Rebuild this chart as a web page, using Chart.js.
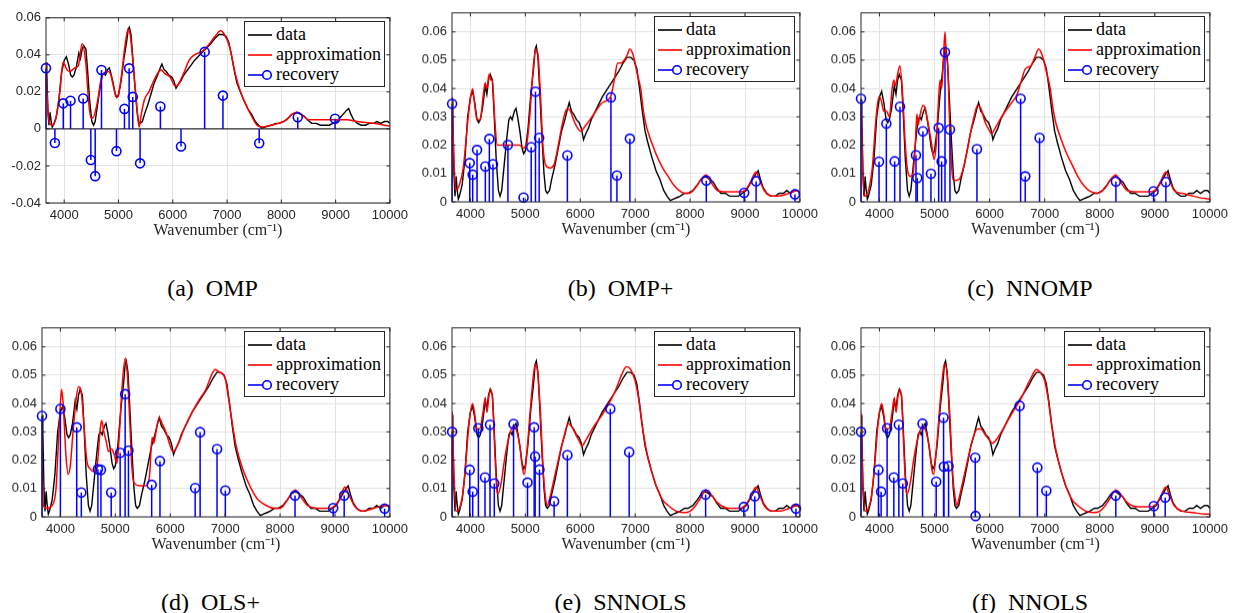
<!DOCTYPE html>
<html>
<head>
<meta charset="utf-8">
<script src="https://cdn.jsdelivr.net/npm/chart.js@4.4.1/dist/chart.umd.min.js"></script>
<style>
  body { margin: 0; background: #fff; width: 1233px; height: 613px; position: relative; overflow: hidden; }
  .panel { position: absolute; }
  .legend { position: absolute; background: #fff; border: 1px solid #262626; box-sizing: border-box;
            font-family: "Liberation Serif", serif; font-size: 18px; color: #000; }
  .row { position: absolute; left: 0; height: 20px; line-height: 20px; white-space: nowrap; }
  .row svg { position: absolute; left: 3px; top: 4px; }
  .row span { position: absolute; left: 31px; top: -1px; }
  .caption { position: absolute; font-family: "Liberation Serif", serif; font-size: 24px; color: #000;
             white-space: pre; transform: translate(-50%, -50%); }
</style>
</head>
<body>
<script>
// measured spectrum [wavenumber, absorbance]
const spectrum = [
  [3665,0.036],[3680,0.030],[3700,0.010],[3720,0.002],[3740,0.009],[3760,0.004],[3780,0.001],[3800,0.002],
  [3850,0.006],[3900,0.015],[3950,0.030],[4000,0.037],[4040,0.039],[4080,0.035],[4120,0.029],[4150,0.028],
  [4180,0.029],[4220,0.033],[4270,0.041],[4300,0.038],[4330,0.043],[4360,0.045],[4400,0.043],[4430,0.032],
  [4470,0.015],[4510,0.004],[4540,0.002],[4570,0.004],[4610,0.012],[4660,0.022],[4700,0.029],[4730,0.030],
  [4760,0.029],[4800,0.032],[4830,0.033],[4860,0.030],[4900,0.025],[4940,0.019],[4970,0.017],[5000,0.018],
  [5050,0.026],[5100,0.038],[5150,0.047],[5180,0.054],[5200,0.055],[5230,0.051],[5260,0.040],[5300,0.024],
  [5340,0.010],[5370,0.004],[5400,0.003],[5440,0.004],[5480,0.008],[5540,0.013],[5600,0.019],[5660,0.025],
  [5720,0.029],[5770,0.033],[5800,0.035],[5840,0.032],[5880,0.031],[5930,0.029],[5980,0.028],[6020,0.026],
  [6060,0.022],[6100,0.024],[6150,0.026],[6200,0.029],[6300,0.033],[6400,0.037],[6500,0.040],[6600,0.043],
  [6700,0.046],[6780,0.049],[6850,0.051],[6920,0.051],[6980,0.050],[7030,0.047],[7080,0.040],[7130,0.032],
  [7180,0.025],[7230,0.021],[7300,0.016],[7380,0.011],[7450,0.008],[7520,0.004],[7580,0.002],[7640,0.0005],
  [7700,0.001],[7760,0.0015],[7820,0.002],[7900,0.003],[7960,0.003],[8050,0.004],[8130,0.006],[8200,0.008],
  [8280,0.009],[8350,0.008],[8420,0.007],[8480,0.005],[8560,0.003],[8640,0.003],[8720,0.002],[8800,0.002],
  [8880,0.002],[8950,0.003],[9020,0.004],[9080,0.006],[9140,0.008],[9200,0.010],[9240,0.011],[9280,0.008],
  [9330,0.005],[9400,0.003],[9470,0.002],[9550,0.002],[9620,0.003],[9700,0.003],[9760,0.004],[9830,0.003],
  [9900,0.004],[9960,0.004],[10000,0.003]
];

// approximations, one per method
const ompApprox = [
  [3665,0.036],[3690,0.015],[3720,0.004],[3780,0.002],[3850,0.006],[3920,0.020],[3980,0.036],[4050,0.032],
  [4100,0.031],[4200,0.033],[4260,0.034],[4330,0.046],[4400,0.035],[4450,0.015],[4490,0.006],[4530,0.006],
  [4570,0.009],[4620,0.016],[4680,0.027],[4730,0.030],[4800,0.031],[4850,0.030],[4900,0.024],[4960,0.017],
  [5000,0.019],[5060,0.030],[5120,0.045],[5180,0.054],[5220,0.050],[5270,0.035],[5330,0.015],[5380,0.001],
  [5420,0.008],[5480,0.016],[5560,0.020],[5650,0.026],[5720,0.030],[5780,0.032],[5850,0.030],[5950,0.028],
  [6050,0.023],[6100,0.024],[6200,0.030],[6300,0.037],[6400,0.040],[6550,0.042],[6650,0.045],[6780,0.050],
  [6880,0.053],[6950,0.051],[7050,0.044],[7150,0.030],[7250,0.020],[7350,0.013],[7450,0.007],[7550,0.002],
  [7650,0.001],[7800,0.002],[7950,0.003],[8100,0.005],[8200,0.008],[8300,0.009],[8400,0.007],[8500,0.005],
  [8700,0.005],[8900,0.005],[9000,0.005],[9200,0.005],[9400,0.004],[9700,0.003],[10000,0.0015]
];
const ompPlusApprox = [
  [3667,0.037],[3700,0.015],[3730,0.004],[3800,0.006],[3870,0.012],[3950,0.028],[3990,0.035],[4040,0.040],
  [4080,0.034],[4120,0.029],[4180,0.029],[4230,0.037],[4270,0.042],[4300,0.040],[4340,0.045],[4370,0.043],
  [4400,0.043],[4440,0.030],[4490,0.020],[4550,0.020],[4700,0.020],[4900,0.020],[4960,0.019],[5020,0.020],
  [5080,0.030],[5130,0.044],[5190,0.054],[5230,0.052],[5270,0.040],[5320,0.020],[5370,0.013],[5450,0.012],
  [5520,0.013],[5600,0.020],[5680,0.028],[5760,0.033],[5820,0.032],[5900,0.028],[6000,0.025],[6100,0.027],
  [6250,0.031],[6400,0.035],[6550,0.037],[6620,0.043],[6680,0.049],[6740,0.049],[6800,0.050],[6860,0.052],
  [6900,0.054],[6960,0.052],[7040,0.045],[7100,0.040],[7150,0.032],[7200,0.027],[7300,0.021],[7400,0.016],
  [7500,0.012],[7600,0.009],[7700,0.006],[7800,0.004],[7900,0.003],[7980,0.003],[8100,0.005],[8200,0.008],
  [8290,0.0095],[8380,0.007],[8500,0.004],[8700,0.0035],[8900,0.0035],[9000,0.004],[9100,0.007],[9200,0.0105],
  [9260,0.008],[9350,0.004],[9500,0.002],[9600,0.002],[9800,0.003],[9950,0.004],[10000,0.003]
];
const nnompApprox = [
  [3665,0.036],[3700,0.010],[3730,0.002],[3800,0.004],[3870,0.012],[3940,0.030],[3990,0.037],[4030,0.036],
  [4080,0.032],[4130,0.032],[4180,0.030],[4230,0.040],[4260,0.043],[4290,0.041],[4330,0.045],[4370,0.048],
  [4420,0.038],[4470,0.020],[4510,0.011],[4560,0.009],[4610,0.010],[4650,0.020],[4680,0.031],[4700,0.027],
  [4730,0.030],[4790,0.034],[4830,0.033],[4880,0.028],[4950,0.020],[4990,0.015],[5030,0.020],[5070,0.035],
  [5100,0.043],[5130,0.040],[5160,0.050],[5190,0.060],[5210,0.052],[5240,0.048],[5270,0.030],[5320,0.010],
  [5350,0.0075],[5450,0.008],[5550,0.014],[5650,0.024],[5730,0.031],[5780,0.034],[5840,0.033],[5920,0.028],
  [6000,0.025],[6030,0.024],[6100,0.026],[6250,0.031],[6400,0.035],[6500,0.038],[6580,0.043],[6650,0.047],
  [6750,0.048],[6820,0.051],[6890,0.054],[6950,0.052],[7030,0.046],[7100,0.040],[7150,0.033],[7200,0.028],
  [7300,0.022],[7400,0.017],[7500,0.013],[7600,0.009],[7700,0.006],[7800,0.004],[7950,0.003],[8100,0.005],
  [8200,0.008],[8290,0.0095],[8380,0.007],[8500,0.004],[8700,0.0035],[8900,0.0035],[9000,0.004],[9100,0.007],
  [9200,0.0105],[9260,0.008],[9350,0.004],[9500,0.003],[9700,0.002],[9900,0.0012],[10000,0.001]
];
const olsPlusApprox = [
  [3660,0.030],[3690,0.004],[3750,0.003],[3850,0.004],[3920,0.010],[3960,0.025],[4000,0.040],[4020,0.045],
  [4050,0.040],[4100,0.022],[4140,0.015],[4180,0.018],[4230,0.030],[4290,0.042],[4330,0.046],[4380,0.044],
  [4430,0.032],[4480,0.020],[4540,0.017],[4620,0.016],[4680,0.020],[4720,0.030],[4750,0.034],[4790,0.030],
  [4830,0.027],[4880,0.023],[4930,0.024],[4980,0.022],[5030,0.019],[5070,0.028],[5120,0.045],[5180,0.056],
  [5220,0.050],[5260,0.035],[5300,0.018],[5340,0.012],[5450,0.011],[5550,0.011],[5620,0.014],[5670,0.028],
  [5700,0.026],[5740,0.030],[5800,0.035],[5850,0.033],[5920,0.030],[6000,0.025],[6050,0.023],[6150,0.026],
  [6250,0.031],[6400,0.037],[6550,0.042],[6650,0.045],[6750,0.050],[6820,0.052],[6900,0.051],[7000,0.049],
  [7060,0.042],[7130,0.033],[7200,0.025],[7300,0.018],[7400,0.013],[7500,0.009],[7600,0.006],[7750,0.004],
  [7900,0.003],[8000,0.003],[8100,0.005],[8200,0.008],[8280,0.0095],[8380,0.007],[8500,0.004],[8700,0.003],
  [8900,0.003],[9000,0.004],[9100,0.007],[9180,0.0105],[9250,0.008],[9350,0.004],[9500,0.002],[9700,0.003],
  [9900,0.004],[10000,0.004]
];
const snnolsApprox = [
  [3667,0.037],[3700,0.015],[3740,0.002],[3800,0.003],[3860,0.008],[3920,0.020],[3980,0.034],[4040,0.040],
  [4080,0.036],[4120,0.031],[4170,0.031],[4230,0.037],[4270,0.042],[4300,0.037],[4340,0.043],[4370,0.045],
  [4410,0.040],[4440,0.025],[4480,0.010],[4500,0.008],[4560,0.012],[4620,0.020],[4700,0.028],[4780,0.032],
  [4830,0.031],[4900,0.025],[4950,0.017],[4980,0.015],[5030,0.023],[5100,0.040],[5160,0.052],[5190,0.054],
  [5230,0.050],[5280,0.035],[5330,0.015],[5380,0.005],[5400,0.004],[5450,0.007],[5520,0.013],[5600,0.020],
  [5700,0.028],[5780,0.033],[5840,0.032],[5920,0.029],[6000,0.026],[6030,0.025],[6100,0.027],[6250,0.032],
  [6400,0.036],[6550,0.041],[6650,0.045],[6750,0.050],[6840,0.053],[6920,0.052],[7000,0.048],[7060,0.042],
  [7130,0.032],[7200,0.024],[7300,0.016],[7400,0.010],[7500,0.006],[7600,0.004],[7750,0.002],[7880,0.0015],
  [8000,0.002],[8100,0.004],[8200,0.007],[8290,0.0095],[8380,0.008],[8500,0.005],[8700,0.003],[8900,0.003],
  [9000,0.004],[9100,0.007],[9200,0.0105],[9260,0.008],[9350,0.004],[9500,0.002],[9650,0.002],[9800,0.003],
  [9950,0.004],[10000,0.004]
];
const nnolsApprox = [
  [3660,0.037],[3700,0.012],[3740,0.002],[3800,0.003],[3860,0.008],[3920,0.020],[3980,0.034],[4040,0.040],
  [4080,0.036],[4120,0.031],[4170,0.031],[4230,0.037],[4270,0.042],[4300,0.037],[4340,0.043],[4370,0.045],
  [4410,0.040],[4440,0.025],[4480,0.010],[4500,0.008],[4560,0.012],[4620,0.020],[4700,0.028],[4780,0.032],
  [4830,0.031],[4900,0.025],[4950,0.017],[4980,0.015],[5030,0.023],[5100,0.040],[5160,0.052],[5190,0.054],
  [5230,0.050],[5280,0.035],[5330,0.015],[5380,0.006],[5400,0.004],[5450,0.007],[5520,0.013],[5600,0.020],
  [5700,0.028],[5780,0.031],[5840,0.031],[5920,0.029],[6000,0.027],[6050,0.026],[6150,0.028],[6300,0.033],
  [6450,0.038],[6550,0.041],[6650,0.045],[6750,0.049],[6850,0.052],[6920,0.051],[7000,0.048],[7060,0.042],
  [7130,0.032],[7200,0.024],[7300,0.016],[7400,0.010],[7500,0.006],[7600,0.004],[7750,0.002],[7880,0.0015],
  [8000,0.002],[8100,0.004],[8200,0.007],[8290,0.0095],[8380,0.008],[8500,0.005],[8700,0.0035],[8900,0.0035],
  [9000,0.004],[9100,0.007],[9200,0.0105],[9260,0.008],[9350,0.004],[9500,0.002],[9700,0.0015],[9900,0.001],
  [10000,0.001]
];

// recovered coefficients [wavenumber, value]
const ompStems = [
  [3665,0.0328],[3829,-0.0076],[3983,0.0138],[4117,0.0152],[4350,0.0164],[4491,-0.0168],[4571,-0.0255],
  [4687,0.0318],[4963,-0.0120],[5110,0.0108],[5196,0.0327],[5263,0.0173],[5398,-0.0186],[5772,0.0121],
  [6152,-0.0095],[6587,0.0416],[6924,0.0180],[7592,-0.0077],[8302,0.0063],[8989,0.0055]
];
const ompPlusStems = [
  [3667,0.0346],[3988,0.0137],[4042,0.0096],[4121,0.0183],[4272,0.0125],[4345,0.0222],[4411,0.0133],
  [4683,0.0201],[4968,0.0015],[5107,0.0193],[5185,0.0389],[5252,0.0226],[5766,0.0164],[6559,0.0369],
  [6668,0.0093],[6904,0.0223],[8295,0.0075],[8985,0.0032],[9202,0.0073],[9910,0.0027]
];
const nnompStems = [
  [3665,0.0364],[3992,0.0142],[4125,0.0276],[4276,0.0143],[4373,0.0336],[4663,0.0165],[4687,0.0084],
  [4790,0.0249],[4935,0.0099],[5075,0.0261],[5129,0.0143],[5190,0.0528],[5280,0.0255],[5770,0.0186],
  [6563,0.0364],[6647,0.0090],[6907,0.0226],[8293,0.0072],[8977,0.0037],[9200,0.0070]
];
const olsPlusStems = [
  [3665,0.0356],[4000,0.0381],[4297,0.0316],[4381,0.0086],[4683,0.0168],[4738,0.0166],[4925,0.0086],
  [5088,0.0226],[5179,0.0433],[5239,0.0234],[5662,0.0113],[5813,0.0197],[6454,0.0102],[6544,0.0299],
  [6852,0.0239],[7003,0.0093],[8272,0.0075],[8967,0.0031],[9167,0.0075],[9904,0.0029]
];
const snnolsStems = [
  [3667,0.0300],[3988,0.0166],[4042,0.0089],[4145,0.0313],[4266,0.0139],[4357,0.0325],[4435,0.0118],
  [4786,0.0328],[5040,0.0121],[5161,0.0316],[5179,0.0213],[5258,0.0167],[5524,0.0055],[5766,0.0218],
  [6547,0.0381],[6891,0.0229],[8283,0.0079],[8979,0.0035],[9178,0.0073],[9928,0.0029]
];
const nnolsStems = [
  [3665,0.0300],[3982,0.0166],[4030,0.0089],[4139,0.0313],[4261,0.0139],[4352,0.0325],[4424,0.0118],
  [4782,0.0329],[5030,0.0124],[5164,0.0350],[5170,0.0177],[5255,0.0179],[5739,0.0209],[5745,0.0003],
  [6545,0.0392],[6867,0.0174],[7030,0.0092],[8291,0.0075],[8982,0.0038],[9188,0.0068]
];

const xTicks = [4000, 5000, 6000, 7000, 8000, 9000, 10000];
const yTicksSigned = [-0.04, -0.02, 0, 0.02, 0.04, 0.06];
const yTicksPositive = [0, 0.01, 0.02, 0.03, 0.04, 0.05, 0.06];
const methodNames = ['(a)  OMP', '(b)  OMP+', '(c)  NNOMP', '(d)  OLS+', '(e)  SNNOLS', '(f)  NNOLS'];

// plot rectangles in page pixels
const panels = [
  { L: 46,  R: 391,  T: 14.7, B: 202.7, yMin: -0.04, yMax: 0.06,   yTicks: yTicksSigned,   approx: ompApprox,     stems: ompStems,     baseline: true },
  { L: 452, R: 801,  T: 10,   B: 201.7, yMin: 0,     yMax: 0.0667, yTicks: yTicksPositive, approx: ompPlusApprox, stems: ompPlusStems },
  { L: 861, R: 1211, T: 10,   B: 201.7, yMin: 0,     yMax: 0.0667, yTicks: yTicksPositive, approx: nnompApprox,   stems: nnompStems },
  { L: 42,  R: 391,  T: 325,  B: 516.7, yMin: 0,     yMax: 0.0667, yTicks: yTicksPositive, approx: olsPlusApprox, stems: olsPlusStems },
  { L: 452, R: 801,  T: 325,  B: 516.7, yMin: 0,     yMax: 0.0667, yTicks: yTicksPositive, approx: snnolsApprox,  stems: snnolsStems },
  { L: 861, R: 1211, T: 325,  B: 516.7, yMin: 0,     yMax: 0.0667, yTicks: yTicksPositive, approx: nnolsApprox,   stems: nnolsStems }
];

const AXIS = '#262626';
const SANS = '"Liberation Sans", Arial, sans-serif';
const SERIF = '"Liberation Serif", "Times New Roman", serif';

// stems, baseline and the MATLAB style box with inward ticks
const stemBox = {
  id: 'stemBox',
  beforeDatasetsDraw(chart, args, opts) {
    if (!opts.baseline) return;
    const { ctx, chartArea: a } = chart;
    const y0 = chart.scales.y.getPixelForValue(0);
    ctx.save();
    ctx.strokeStyle = '#000';
    ctx.lineWidth = 1;
    ctx.beginPath(); ctx.moveTo(a.left, y0); ctx.lineTo(a.right, y0); ctx.stroke();
    ctx.restore();
  },
  afterDatasetDraw(chart, args) {
    if (args.index !== 1) return;
    const { ctx } = chart;
    const xs = chart.scales.x, ys = chart.scales.y;
    const y0 = ys.getPixelForValue(0);
    ctx.save();
    ctx.strokeStyle = '#0000ff';
    ctx.lineWidth = 1.5;
    chart.data.datasets[0].data.forEach(p => {
      const px = xs.getPixelForValue(p.x);
      ctx.beginPath(); ctx.moveTo(px, y0); ctx.lineTo(px, ys.getPixelForValue(p.y)); ctx.stroke();
    });
    ctx.restore();
  },
  afterDraw(chart) {
    const { ctx, chartArea: a } = chart;
    ctx.save();
    ctx.strokeStyle = AXIS;
    ctx.lineWidth = 1;
    ctx.strokeRect(a.left, a.top, a.right - a.left, a.bottom - a.top);
    ctx.beginPath();
    chart.scales.x.ticks.forEach(t => {
      const px = chart.scales.x.getPixelForValue(t.value);
      ctx.moveTo(px, a.bottom); ctx.lineTo(px, a.bottom - 3.5);
      ctx.moveTo(px, a.top); ctx.lineTo(px, a.top + 3.5);
    });
    chart.scales.y.ticks.forEach(t => {
      const py = chart.scales.y.getPixelForValue(t.value);
      ctx.moveTo(a.left, py); ctx.lineTo(a.left + 3.5, py);
      ctx.moveTo(a.right, py); ctx.lineTo(a.right - 3.5, py);
    });
    ctx.stroke();
    ctx.restore();
  }
};

const toPts = arr => arr.map(p => ({ x: p[0], y: p[1] }));

function legendRow(i, svg, text) {
  return `<div class="row" style="top:${3 + 20 * i}px">${svg}<span>${text}</span></div>`;
}

panels.forEach((p, i) => {
  const yw = i === 0 || i === 3 ? p.L : 45;
  const left = p.L - yw, top = p.T - 10;
  const width = p.R - left + 22;
  const height = 10 + (p.B - p.T) + 38 + 2;

  const div = document.createElement('div');
  div.className = 'panel';
  div.style.left = left + 'px';
  div.style.top = top + 'px';
  div.style.width = width + 'px';
  div.style.height = height + 'px';
  const canvas = document.createElement('canvas');
  canvas.width = width; canvas.height = height;
  canvas.style.width = width + 'px'; canvas.style.height = height + 'px';
  div.appendChild(canvas);
  document.body.appendChild(div);

  new Chart(canvas, {
    type: 'scatter',
    data: {
      datasets: [
        { label: 'recovery', data: toPts(p.stems), showLine: false, order: 0, clip: false,
          pointRadius: 4.5, pointHoverRadius: 4.5, pointBorderWidth: 1.6,
          pointBorderColor: '#0000ff', pointBackgroundColor: 'rgba(0,0,0,0)' },
        { label: 'approximation', data: toPts(p.approx), showLine: true, order: 1,
          borderColor: '#ff0000', borderWidth: 1.5, pointRadius: 0, cubicInterpolationMode: 'monotone' },
        { label: 'data', data: toPts(spectrum), showLine: true, order: 2,
          borderColor: '#000000', borderWidth: 1.4, pointRadius: 0, tension: 0 }
      ]
    },
    options: {
      responsive: false,
      animation: false,
      devicePixelRatio: 1,
      layout: { padding: { left: 0, right: 22, top: 10, bottom: 2 } },
      plugins: { legend: { display: false }, tooltip: { enabled: false }, stemBox: { baseline: !!p.baseline } },
      scales: {
        x: {
          type: 'linear', min: 3665, max: 10000,
          afterBuildTicks: s => { s.ticks = xTicks.map(v => ({ value: v })); },
          afterFit: s => { s.height = 38; },
          grid: { color: '#e3e3e3', drawTicks: false },
          border: { display: false },
          ticks: { padding: 5, color: AXIS, font: { family: SANS, size: 13 }, maxRotation: 0,
                   callback: v => String(v) },
          title: { display: true, text: 'Wavenumber (cm\u207B\u00B9)', color: AXIS,
                   font: { family: SERIF, size: 16 }, padding: { top: 0, bottom: 1 } }
        },
        y: {
          min: p.yMin, max: p.yMax,
          afterBuildTicks: s => { s.ticks = p.yTicks.map(v => ({ value: v })); },
          afterFit: s => { s.width = yw; },
          grid: { color: '#e3e3e3', drawTicks: false },
          border: { display: false },
          ticks: { padding: 5, color: AXIS, font: { family: SANS, size: 13 },
                   callback: v => (Math.abs(v) < 1e-9 ? '0' : v.toFixed(2)) }
        }
      }
    },
    plugins: [stemBox]
  });

  const leg = document.createElement('div');
  leg.className = 'legend';
  leg.style.left = (p.R - 6 - 141) + 'px';
  leg.style.top = (p.T + 6) + 'px';
  leg.style.width = '141px';
  leg.style.height = '66px';
  leg.innerHTML =
    legendRow(0, '<svg width="26" height="12"><line x1="0" y1="6" x2="24" y2="6" stroke="#000" stroke-width="1.6"/></svg>', 'data') +
    legendRow(1, '<svg width="26" height="12"><line x1="0" y1="6" x2="24" y2="6" stroke="#ff0000" stroke-width="1.6"/></svg>', 'approximation') +
    legendRow(2, '<svg width="26" height="12"><line x1="0" y1="6" x2="15" y2="6" stroke="#0000ff" stroke-width="1.6"/><circle cx="19" cy="6" r="4.3" fill="none" stroke="#0000ff" stroke-width="1.6"/></svg>', 'recovery');
  document.body.appendChild(leg);

  const cap = document.createElement('div');
  cap.className = 'caption';
  cap.style.left = ((p.L + p.R) / 2 - 6) + 'px';
  cap.style.top = (i < 3 ? 288 : 602) + 'px';
  cap.textContent = methodNames[i];
  document.body.appendChild(cap);
});
</script>
</body>
</html>
